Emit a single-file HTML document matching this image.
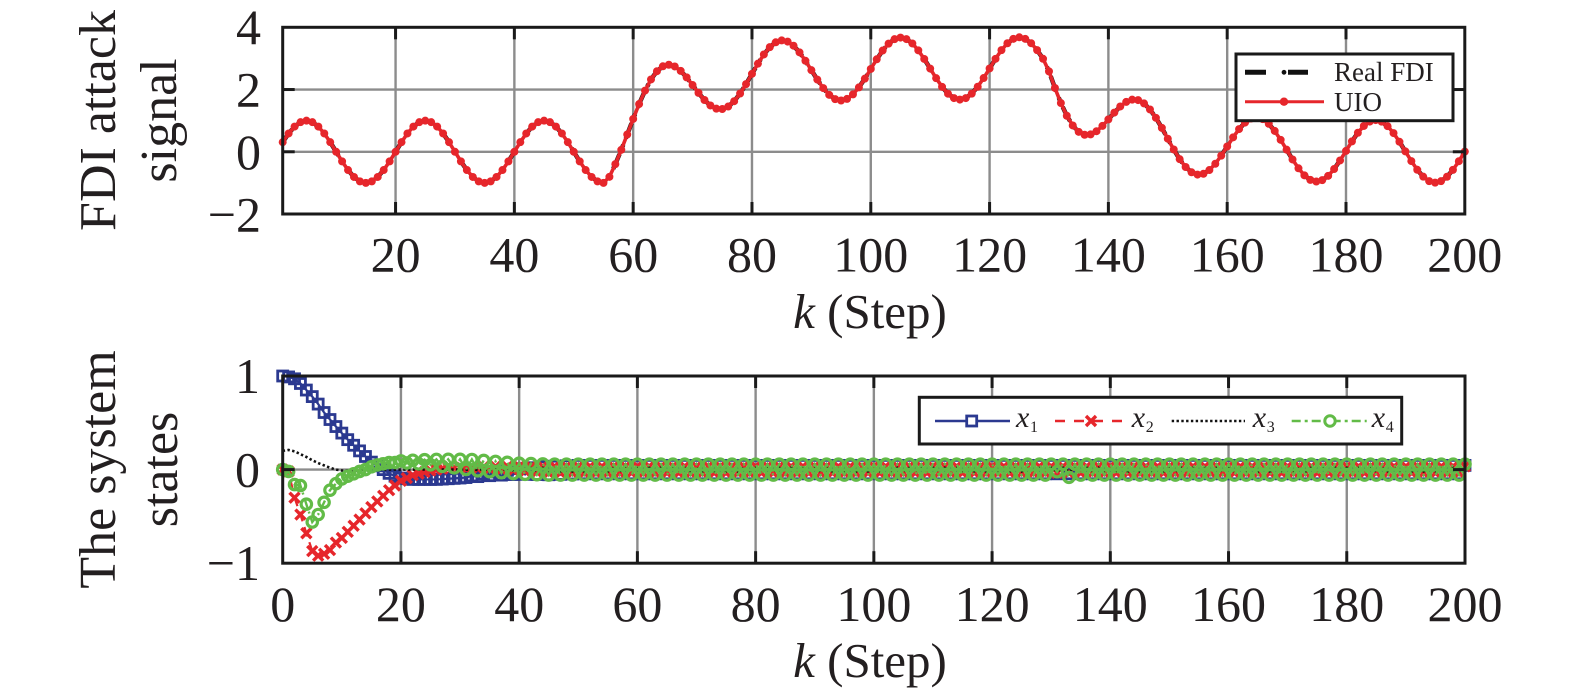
<!DOCTYPE html>
<html><head><meta charset="utf-8">
<style>
html,body{margin:0;padding:0;background:#fff;}
svg{display:block;}
text{font-family:"Liberation Serif","Times New Roman",serif;fill:#231f20;}
</style></head>
<body>
<svg id="svg" xmlns="http://www.w3.org/2000/svg" width="1575" height="692" viewBox="0 0 1575 692">
<rect x="0" y="0" width="1575" height="692" fill="#fff"/>
<g id="g-grid"></g>
<g id="g-data"></g>
<g id="g-axes"></g>

<!-- Top plot tick labels -->
<g font-size="50" text-anchor="end">
<text x="261" y="44">4</text>
<text x="261" y="106.5">2</text>
<text x="261" y="169">0</text>
<text x="261" y="231.5">−2</text>
</g>
<g font-size="50" text-anchor="middle">
<text x="395.6" y="271.5">20</text>
<text x="514.4" y="271.5">40</text>
<text x="633.2" y="271.5">60</text>
<text x="752.0" y="271.5">80</text>
<text x="870.8" y="271.5">100</text>
<text x="989.6" y="271.5">120</text>
<text x="1108.4" y="271.5">140</text>
<text x="1227.2" y="271.5">160</text>
<text x="1346.0" y="271.5">180</text>
<text x="1464.8" y="271.5">200</text>
</g>
<text x="870" y="328" font-size="49" text-anchor="middle"><tspan font-style="italic">k</tspan> (Step)</text>
<g font-size="52" text-anchor="middle">
<text transform="translate(115,120.5) rotate(-90)">FDI attack</text>
<text transform="translate(176,120.5) rotate(-90)">signal</text>
</g>

<!-- Bottom plot tick labels -->
<g font-size="50" text-anchor="end">
<text x="260" y="393">1</text>
<text x="260" y="486.5">0</text>
<text x="260" y="580">−1</text>
</g>
<g font-size="50" text-anchor="middle">
<text x="282.7" y="621">0</text>
<text x="400.9" y="621">20</text>
<text x="519.2" y="621">40</text>
<text x="637.4" y="621">60</text>
<text x="755.6" y="621">80</text>
<text x="873.9" y="621">100</text>
<text x="992.1" y="621">120</text>
<text x="1110.3" y="621">140</text>
<text x="1228.5" y="621">160</text>
<text x="1346.8" y="621">180</text>
<text x="1465" y="621">200</text>
</g>
<text x="870" y="677" font-size="49" text-anchor="middle"><tspan font-style="italic">k</tspan> (Step)</text>
<g font-size="52" text-anchor="middle">
<text transform="translate(115,469.5) rotate(-90)">The system</text>
<text transform="translate(177,469.5) rotate(-90)">states</text>
</g>

<!-- Top legend -->
<rect x="1236" y="54" width="217" height="66.7" fill="#fff" stroke="#1a1a1a" stroke-width="3"/>
<line x1="1245" y1="72.3" x2="1266" y2="72.3" stroke="#111" stroke-width="5"/>
<circle cx="1284" cy="72.3" r="2.4" fill="#111"/>
<line x1="1288" y1="72.3" x2="1308" y2="72.3" stroke="#111" stroke-width="5"/>
<text x="1334" y="81" font-size="27">Real FDI</text>
<line x1="1245" y1="101.7" x2="1324" y2="101.7" stroke="#e6262b" stroke-width="3"/>
<circle cx="1284" cy="101.7" r="4.2" fill="#e6262b"/>
<text x="1334" y="111" font-size="27">UIO</text>

<!-- Bottom legend -->
<rect x="919.3" y="397.3" width="482.4" height="46.7" fill="#fff" stroke="#1a1a1a" stroke-width="3"/>
<line x1="935" y1="421" x2="1010" y2="421" stroke="#2b3990" stroke-width="2.4"/>
<rect x="966.7" y="416" width="10" height="10" fill="#fff" stroke="#2b3990" stroke-width="2.8"/>
<text x="1016" y="427" font-size="30" font-style="italic">x</text>
<text x="1030" y="432" font-size="16">1</text>

<line x1="1055" y1="421" x2="1125" y2="421" stroke="#e6262b" stroke-width="2.4" stroke-dasharray="10 9"/>
<line x1="1086" y1="416" x2="1096" y2="426" stroke="#e6262b" stroke-width="3.4"/>
<line x1="1086" y1="426" x2="1096" y2="416" stroke="#e6262b" stroke-width="3.4"/>
<text x="1131.7" y="427" font-size="30" font-style="italic">x</text>
<text x="1145.7" y="432" font-size="16">2</text>

<line x1="1171.7" y1="421" x2="1245" y2="421" stroke="#111" stroke-width="2.6" stroke-dasharray="2.4 2.4"/>
<text x="1252.7" y="427" font-size="30" font-style="italic">x</text>
<text x="1266.7" y="432" font-size="16">3</text>

<line x1="1291.7" y1="421" x2="1366.7" y2="421" stroke="#62bb47" stroke-width="2.4" stroke-dasharray="9 4 3 4"/>
<circle cx="1330" cy="421" r="5.2" fill="#fff" stroke="#62bb47" stroke-width="3"/>
<text x="1371.7" y="427" font-size="30" font-style="italic">x</text>
<text x="1385.7" y="432" font-size="16">4</text>
</svg>

<script>
(function(){
var NS='http://www.w3.org/2000/svg';
function el(tag,attrs,parent){var e=document.createElementNS(NS,tag);for(var a in attrs)e.setAttribute(a,attrs[a]);parent.appendChild(e);return e;}
var gGrid=document.getElementById('g-grid'),gData=document.getElementById('g-data'),gAxes=document.getElementById('g-axes');
var GRID='#8c8c8c',AX='#1a1a1a';
function XT(k){return 282.7+(k-1)*(1182.1/199);}
function YT(v){return 214-(v+2)*(186.7/6);}
function XB(k){return 282.7+k*(1182.3/200);}
function YB(v){return 469.6-v*93.6;}
var TL=12;
var tL=282.7,tR=1464.8,tT=27.3,tB=214;
for(var k=20;k<200;k+=20){var x=XT(k);el('line',{x1:x,y1:tT,x2:x,y2:tB,stroke:GRID,'stroke-width':2.4},gGrid);}
[0,2].forEach(function(v){var y=YT(v);el('line',{x1:tL,y1:y,x2:tR,y2:y,stroke:GRID,'stroke-width':2.4},gGrid);});
el('rect',{x:tL,y:tT,width:tR-tL,height:tB-tT,fill:'none',stroke:AX,'stroke-width':3},gAxes);
for(var k=20;k<200;k+=20){var x=XT(k);
 el('line',{x1:x,y1:tB,x2:x,y2:tB-TL,stroke:AX,'stroke-width':3},gAxes);
 el('line',{x1:x,y1:tT,x2:x,y2:tT+TL,stroke:AX,'stroke-width':3},gAxes);}
[0,2].forEach(function(v){var y=YT(v);
 el('line',{x1:tL,y1:y,x2:tL+TL,y2:y,stroke:AX,'stroke-width':3},gAxes);
 el('line',{x1:tR,y1:y,x2:tR-TL,y2:y,stroke:AX,'stroke-width':3},gAxes);});
var bL=282.7,bR=1465,bT=376,bB=563.2;
for(var k=20;k<200;k+=20){var x=XB(k);el('line',{x1:x,y1:bT,x2:x,y2:bB,stroke:GRID,'stroke-width':2.4},gGrid);}
el('line',{x1:bL,y1:YB(0),x2:bR,y2:YB(0),stroke:GRID,'stroke-width':2.4},gGrid);
el('rect',{x:bL,y:bT,width:bR-bL,height:bB-bT,fill:'none',stroke:AX,'stroke-width':3},gAxes);
for(var k=20;k<200;k+=20){var x=XB(k);
 el('line',{x1:x,y1:bB,x2:x,y2:bB-TL,stroke:AX,'stroke-width':3},gAxes);
 el('line',{x1:x,y1:bT,x2:x,y2:bT+TL,stroke:AX,'stroke-width':3},gAxes);}
el('line',{x1:bL,y1:YB(0),x2:bL+TL,y2:YB(0),stroke:AX,'stroke-width':3},gAxes);
el('line',{x1:bR,y1:YB(0),x2:bR-TL,y2:YB(0),stroke:AX,'stroke-width':3},gAxes);

function pathD(pts){return pts.map(function(p,i){return (i?'L':'M')+p[0].toFixed(2)+' '+p[1].toFixed(2);}).join('');}

var bEnd=2.68*(1-Math.exp(-(129.6-55.5)/9));
function bias(k){if(k<55.5)return 0;if(k<=129.6)return 2.68*(1-Math.exp(-(k-55.5)/9));return bEnd*Math.exp(-(k-129.6)/11);}
function d(k){return Math.sin(Math.PI*k/10)+bias(k);}
var tp=[];for(var k=1;k<=200;k++)tp.push([XT(k),YT(d(k))]);
el('path',{d:pathD(tp),fill:'none',stroke:'#111','stroke-width':4.5,'stroke-dasharray':'16 7 3 7'},gData);
el('path',{d:pathD(tp),fill:'none',stroke:'#e6262b','stroke-width':3.6,'stroke-linejoin':'round'},gData);
tp.forEach(function(p){el('circle',{cx:p[0],cy:p[1],r:4,fill:'#e6262b'},gData);});

function interp(pts,k){if(k<=pts[0][0])return pts[0][1];for(var i=1;i<pts.length;i++){if(k<=pts[i][0]){var a=pts[i-1],b=pts[i];return a[1]+(b[1]-a[1])*(k-a[0])/(b[0]-a[0]);}}return pts[pts.length-1][1];}
function ramp(k,a,b){return k<=a?0:(k>=b?1:(k-a)/(b-a));}
var P1=[[0,1],[1,0.99],[2,0.97],[3,0.92],[4,0.85],[5,0.78],[6,0.7],[7,0.61],[8,0.535],[9,0.46],[10,0.39],[11,0.32],[12,0.26],[13,0.2],[14,0.14],[15,0.08],[16,0.04],[17,0.0],[18,-0.04],[19,-0.07],[20,-0.09],[22,-0.105],[26,-0.105],[30,-0.09],[35,-0.05],[40,-0.02],[50,0],[200,0]];
var P2=[[0,0],[1,-0.02],[2,-0.3],[3,-0.48],[4,-0.68],[5,-0.87],[6,-0.92],[7,-0.9],[8,-0.86],[9,-0.78],[10,-0.73],[12,-0.6],[15,-0.4],[18,-0.22],[20,-0.12],[22,-0.06],[25,-0.01],[28,0.02],[35,0.02],[45,0],[200,0]];
var P3=[[0,0.2],[1,0.21],[2,0.195],[3,0.165],[4,0.135],[5,0.1],[6,0.07],[7,0.045],[8,0.02],[9,0.0],[10,-0.01],[12,-0.01],[15,0],[200,0]];
var P4=[[0,0],[1,-0.02],[2,-0.16],[3,-0.17],[4,-0.37],[5,-0.56],[6,-0.48],[7,-0.35],[8,-0.22],[9,-0.15],[10,-0.1],[11,-0.07],[12,-0.045],[13,-0.02],[14,0],[15,0.03],[16,0.05],[18,0.075],[20,0.085],[25,0.08],[30,0.06],[35,0.035],[40,0.01],[45,0],[200,0]];
var s1=[],s2=[],s3=[],s4=[];
for(var k=0;k<=200;k++){
 var alt=(k%2===0)?1:-1;
 var v1=interp(P1,k)+0.045*ramp(k,30,45)*alt;
 var v2=interp(P2,k)+0.035*ramp(k,30,45)*alt;
 var v3=interp(P3,k)+0.02*ramp(k,30,45)*alt;
 var v4=interp(P4,k)+0.058*ramp(k,18,32)*alt;
 if(k===131)v4+=0.035; if(k===133)v4-=0.025;
 s1.push([XB(k),YB(v1)]);s2.push([XB(k),YB(v2)]);s3.push([XB(k),YB(v3)]);s4.push([XB(k),YB(v4)]);
}
var BL='#2b3990',RD='#e6262b',GN='#62bb47';
el('path',{d:pathD(s1),fill:'none',stroke:BL,'stroke-width':2.2},gData);
s1.forEach(function(p){el('rect',{x:p[0]-5,y:p[1]-5,width:10,height:10,fill:'none',stroke:BL,'stroke-width':2.8},gData);});
el('path',{d:pathD(s2),fill:'none',stroke:RD,'stroke-width':2.2,'stroke-dasharray':'10 6'},gData);
s2.forEach(function(p){
 el('line',{x1:p[0]-5,y1:p[1]-5,x2:p[0]+5,y2:p[1]+5,stroke:RD,'stroke-width':3.4},gData);
 el('line',{x1:p[0]-5,y1:p[1]+5,x2:p[0]+5,y2:p[1]-5,stroke:RD,'stroke-width':3.4},gData);});
el('path',{d:pathD(s3),fill:'none',stroke:'#111','stroke-width':2.6,'stroke-dasharray':'2.4 2.4'},gData);
el('path',{d:pathD(s4),fill:'none',stroke:GN,'stroke-width':2.4,'stroke-dasharray':'10 4 2 4'},gData);
s4.forEach(function(p){el('circle',{cx:p[0],cy:p[1],r:5.2,fill:'none',stroke:GN,'stroke-width':3.2},gData);});
})();
</script>
</body></html>
